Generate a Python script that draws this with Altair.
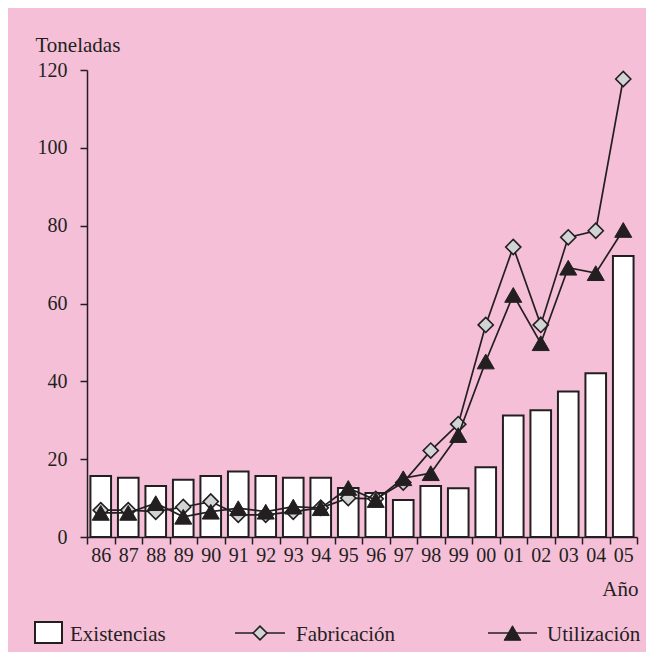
import altair as alt
import pandas as pd

# ---- data ----
years = ["86", "87", "88", "89", "90", "91", "92", "93", "94", "95",
         "96", "97", "98", "99", "00", "01", "02", "03", "04", "05"]
existencias = [15.7, 15.2, 13.1, 14.7, 15.7, 16.8, 15.7, 15.2, 15.2, 12.6,
               11.3, 9.5, 13.1, 12.5, 17.9, 31.2, 32.6, 37.4, 42.1, 72.2]
fabricacion = [6.9, 6.9, 6.5, 7.7, 9.1, 5.7, 5.7, 6.5, 7.5, 10.0,
               9.8, 14.0, 22.2, 29.0, 54.5, 74.5, 54.5, 77.0, 78.7, 117.7]
utilizacion = [6.2, 6.2, 8.7, 5.2, 6.5, 7.4, 6.5, 7.8, 7.4, 12.6,
               9.5, 15.1, 16.4, 26.2, 45.1, 62.2, 49.8, 69.2, 67.8, 78.9]
series = ["Existencias", "Fabricación", "Utilización"]
y_ticks = [0, 20, 40, 60, 80, 100, 120]
y_title = "Toneladas"
x_title = "Año"

df = pd.DataFrame({
    "year": years,
    "Existencias": existencias,
    "Fabricación": fabricacion,
    "Utilización": utilizacion,
})

BG = "#F6BFD8"
INK = "#231F20"
GREY = "#D1D3D4"
FONT = "Liberation Serif"
FS_LABEL = 20
FS_TEXT = 21

x_enc = alt.X(
    "year:N", sort=years,
    scale=alt.Scale(paddingInner=0, paddingOuter=0),
    axis=alt.Axis(
        title=x_title, tickBand="extent", labelAngle=0, labelPadding=1,
        titleX=551, titleY=58, titleAlign="right", titleBaseline="alphabetic",
    ),
)

y_axis = alt.Axis(
    title=y_title, values=y_ticks, labelPadding=13,
    titleAngle=0, titleX=-52, titleY=-19, titleAlign="left",
    titleBaseline="alphabetic",
)
y_scale = alt.Scale(domain=[0, 120], nice=False)

base = alt.Chart(df)

bars = base.mark_bar(
    fill="white", stroke=INK, strokeWidth=2, width={"band": 0.75}
).encode(x=x_enc, y=alt.Y("Existencias:Q", scale=y_scale, axis=y_axis))

fab_line = base.mark_line(color=INK, strokeWidth=1.7).encode(
    x=x_enc, y=alt.Y("Fabricación:Q", scale=y_scale, axis=y_axis))
fab_pts = base.mark_point(
    shape="diamond", filled=True, fill=GREY, stroke=INK, strokeWidth=1.6,
    size=230, opacity=1,
).encode(x=x_enc, y=alt.Y("Fabricación:Q", scale=y_scale, axis=y_axis))

uti_line = base.mark_line(color=INK, strokeWidth=1.7).encode(
    x=x_enc, y=alt.Y("Utilización:Q", scale=y_scale, axis=y_axis))
uti_pts = base.mark_point(
    shape="triangle-up", filled=True, fill=INK, stroke=INK, strokeWidth=1,
    size=290, opacity=1,
).encode(x=x_enc, y=alt.Y("Utilización:Q", scale=y_scale, axis=y_axis))

# ---- legend (drawn as guide marks below the plot) ----
def lg_text(name, xpos):
    return alt.Chart(pd.DataFrame({"s": [name]})).mark_text(
        align="left", baseline="alphabetic", font=FONT, fontSize=FS_TEXT, color=INK
    ).encode(x=alt.value(xpos), y=alt.value(571), text="s:N")

one = pd.DataFrame({"s": [0]})
lg_box = alt.Chart(one).mark_rect(fill="white", stroke=INK, strokeWidth=2).encode(
    x=alt.value(-52), x2=alt.value(-25), y=alt.value(552), y2=alt.value(573))
lg_fab_line = alt.Chart(one).mark_rule(color=INK, strokeWidth=1.7).encode(
    x=alt.value(148), x2=alt.value(198), y=alt.value(563))
lg_fab_pt = alt.Chart(one).mark_point(
    shape="diamond", filled=True, fill=GREY, stroke=INK, strokeWidth=1.6,
    size=190, opacity=1).encode(x=alt.value(173), y=alt.value(563))
lg_uti_line = alt.Chart(one).mark_rule(color=INK, strokeWidth=1.7).encode(
    x=alt.value(401), x2=alt.value(450), y=alt.value(563))
lg_uti_pt = alt.Chart(one).mark_point(
    shape="triangle-up", filled=True, fill=INK, stroke=INK, strokeWidth=1,
    size=280, opacity=1).encode(x=alt.value(425.5), y=alt.value(563))

chart = alt.layer(
    bars, fab_line, fab_pts, uti_line, uti_pts,
    lg_box, lg_text(series[0], -17),
    lg_fab_line, lg_fab_pt, lg_text(series[1], 209),
    lg_uti_line, lg_uti_pt, lg_text(series[2], 460),
).properties(
    width=550, height=467,
    autosize=alt.AutoSizeParams(type="none"),
    padding={"left": 79, "top": 62, "right": 9, "bottom": 115},
    background=BG,
).configure_view(
    strokeWidth=0
).configure_axis(
    grid=False,
    domainColor=INK, domainWidth=1.5,
    tickColor=INK, tickWidth=1.5, tickSize=7,
    labelFont=FONT, labelFontSize=FS_LABEL, labelColor=INK,
    titleFont=FONT, titleFontSize=FS_TEXT, titleColor=INK, titleFontWeight="normal",
)

chart.save("out.html", embed_options={"renderer": "svg", "actions": False})
